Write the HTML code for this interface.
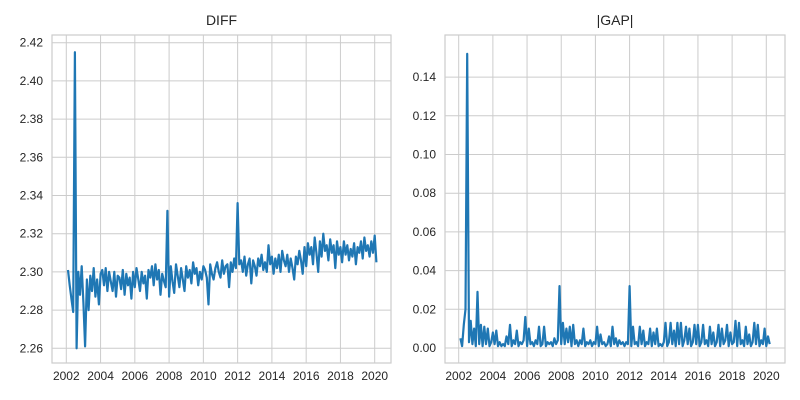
<!DOCTYPE html>
<html><head><meta charset="utf-8"><style>
body{margin:0;background:#fff}
svg{display:block;font-family:"Liberation Sans",sans-serif}
</style></head><body>
<svg id="c" width="800" height="400"></svg>
<script>
const yearStart = 2002.1;
const yearStep = 0.1;
const diffValues = [2.301,2.293,2.286,2.279,2.415,2.260,2.300,2.288,2.303,2.284,
2.261,2.296,2.280,2.298,2.290,2.302,2.287,2.296,2.283,2.299,
2.301,2.293,2.302,2.290,2.300,2.295,2.290,2.300,2.287,2.298,
2.297,2.291,2.301,2.288,2.299,2.293,2.297,2.286,2.300,2.292,
2.302,2.296,2.290,2.300,2.294,2.298,2.286,2.301,2.297,2.303,
2.293,2.304,2.296,2.301,2.288,2.299,2.295,2.292,2.332,2.287,
2.303,2.295,2.289,2.304,2.298,2.292,2.302,2.296,2.290,2.303,
2.297,2.301,2.294,2.305,2.299,2.302,2.293,2.300,2.296,2.303,
2.301,2.297,2.283,2.304,2.299,2.296,2.302,2.305,2.300,2.297,
2.306,2.299,2.303,2.304,2.292,2.305,2.300,2.307,2.302,2.336,
2.304,2.306,2.300,2.308,2.298,2.304,2.307,2.294,2.306,2.303,
2.298,2.307,2.303,2.309,2.301,2.305,2.300,2.314,2.304,2.308,
2.299,2.307,2.302,2.309,2.300,2.311,2.306,2.303,2.309,2.300,
2.307,2.302,2.296,2.308,2.304,2.311,2.306,2.299,2.313,2.303,
2.315,2.309,2.313,2.304,2.318,2.310,2.300,2.316,2.308,2.320,
2.311,2.314,2.306,2.317,2.310,2.314,2.302,2.316,2.309,2.313,
2.305,2.316,2.309,2.314,2.306,2.312,2.308,2.315,2.304,2.313,
2.310,2.316,2.307,2.318,2.311,2.314,2.308,2.316,2.310,2.319,2.305];
const gapValues = [0.005,0.001,0.012,0.020,0.152,0.003,0.014,0.002,0.010,0.001,
0.029,0.002,0.012,0.001,0.011,0.002,0.010,0.001,0.003,0.008,
0.002,0.009,0.001,0.003,0.001,0.002,0.001,0.006,0.002,0.012,
0.001,0.004,0.002,0.009,0.001,0.003,0.002,0.004,0.016,0.001,
0.010,0.002,0.003,0.001,0.004,0.002,0.011,0.001,0.002,0.011,
0.001,0.003,0.002,0.003,0.001,0.005,0.002,0.004,0.032,0.002,
0.013,0.002,0.010,0.003,0.011,0.001,0.012,0.002,0.004,0.001,
0.004,0.002,0.010,0.001,0.003,0.002,0.004,0.001,0.003,0.002,
0.011,0.001,0.007,0.002,0.003,0.001,0.002,0.006,0.001,0.011,
0.002,0.005,0.001,0.004,0.002,0.003,0.001,0.003,0.002,0.032,
0.001,0.011,0.002,0.003,0.001,0.011,0.002,0.009,0.001,0.003,
0.002,0.010,0.001,0.008,0.002,0.010,0.001,0.002,0.001,0.003,
0.013,0.001,0.003,0.013,0.002,0.009,0.001,0.013,0.002,0.013,
0.001,0.004,0.011,0.002,0.010,0.001,0.003,0.012,0.002,0.012,
0.001,0.003,0.012,0.002,0.004,0.001,0.011,0.002,0.008,0.001,
0.003,0.012,0.001,0.010,0.002,0.004,0.012,0.001,0.008,0.002,
0.003,0.014,0.001,0.013,0.002,0.004,0.001,0.011,0.002,0.007,
0.001,0.003,0.013,0.002,0.012,0.001,0.004,0.002,0.010,0.001,
0.006,0.002];
const xTicks = [2002,2004,2006,2008,2010,2012,2014,2016,2018,2020];
const diffTicks = [2.26,2.28,2.30,2.32,2.34,2.36,2.38,2.40,2.42];
const gapTicks = [0.00,0.02,0.04,0.06,0.08,0.10,0.12,0.14];

const svg = document.getElementById('c');
const NS = 'http://www.w3.org/2000/svg';
function mk(tag, attrs, parent){const e=document.createElementNS(NS,tag);for(const k in attrs)e.setAttribute(k,attrs[k]);(parent||svg).appendChild(e);return e;}

function panel(opt){
  const g = mk('g',{});
  
  
  const {L,R,T,B} = opt;
  const xs = v => opt.x0 + (v-2002)*(opt.x1-opt.x0)/18;
  const ys = v => opt.yA + (v-opt.vA)*(opt.yB-opt.yA)/(opt.vB-opt.vA);
  mk('rect',{x:L,y:T,width:R-L,height:B-T,fill:'#fff',stroke:'#ccc','stroke-width':1.2},g);
  xTicks.forEach(t=>{
    const x=xs(t);
    const ln=mk('line',{x1:x,x2:x,y1:T,y2:B,stroke:'#ccc','stroke-width':1},g);
    
    
    const tx=mk('text',{x:x,y:B+17,'text-anchor':'middle','font-size':12,fill:'#262626'},g);
    tx.textContent=t;
    
    
  });
  opt.ticks.forEach(t=>{
    const y=ys(t);
    const ln=mk('line',{x1:L,x2:R,y1:y,y2:y,stroke:'#ccc','stroke-width':1},g);
    
    
    const tx=mk('text',{x:L-9,y:y+4,'text-anchor':'end','font-size':12,fill:'#262626'},g);
    tx.textContent=t.toFixed(2);
    
    
  });
  const pts = opt.values.map((v,i)=>xs(yearStart+i*yearStep).toFixed(1)+','+ys(v).toFixed(1)).join(' ');
  const pl=mk('polyline',{points:pts,fill:'none',stroke:'#1f77b4','stroke-width':2.2,'stroke-linejoin':'round'},g);
  
  
  const ti=mk('text',{x:(L+R)/2,y:T-10,'text-anchor':'middle','font-size':14,fill:'#262626'},g);
  ti.textContent=opt.title;
  
  
}
panel({name:'diff-panel',title:'DIFF',L:52,R:391,T:35,B:363,x0:66.3,x1:374.7,yA:348.3,vA:2.26,yB:42.7,vB:2.42,ticks:diffTicks,values:diffValues});
panel({name:'gap-panel',title:'|GAP|',L:445,R:785,T:35,B:363,x0:458.7,x1:766.3,yA:348,vA:0,yB:309.3,vB:0.02,ticks:gapTicks,values:gapValues});
</script>
</body></html>
